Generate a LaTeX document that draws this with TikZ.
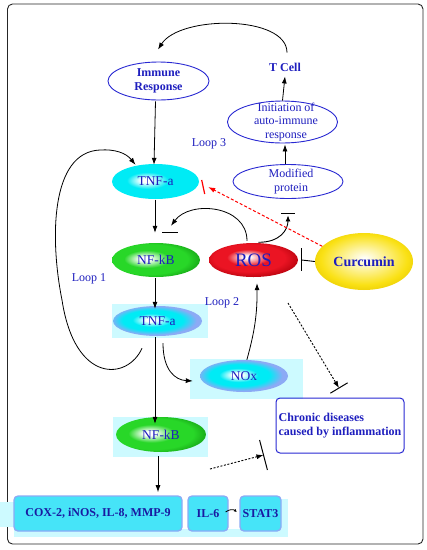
\documentclass[tikz,border=0pt]{standalone}
\usepackage{fontspec}
\setmainfont{Liberation Serif}
\usetikzlibrary{arrows.meta,calc,shapes.geometric}
\definecolor{txtblue}{RGB}{30,30,190}
\definecolor{bordblue}{RGB}{40,40,210}
\definecolor{cyanA}{RGB}{0,235,245}
\definecolor{peri}{RGB}{140,170,245}
\definecolor{greenA}{RGB}{40,215,40}
\definecolor{greenB}{RGB}{20,160,20}
\definecolor{redA}{RGB}{235,20,35}
\definecolor{redB}{RGB}{175,0,10}
\definecolor{yelA}{RGB}{250,225,20}
\definecolor{yelB}{RGB}{230,200,0}
\definecolor{paleCyan}{RGB}{205,250,255}
\definecolor{boxCyan}{RGB}{70,228,248}
\pgfdeclareradialshading{cyanball}{\pgfpoint{-6bp}{2bp}}{color(0bp)=(white); color(3bp)=(white); color(12bp)=(cyanA); color(50bp)=(cyanA)}
\pgfdeclareradialshading{cyanrim}{\pgfpoint{-4bp}{2bp}}{color(0bp)=(white); color(3bp)=(white); color(11bp)=(cyanA); color(17bp)=(cyanA); color(24bp)=(peri); color(50bp)=(peri)}
\pgfdeclareradialshading{greenball}{\pgfpoint{-7bp}{2bp}}{color(0bp)=(white); color(3bp)=(white); color(13bp)=(greenA); color(22bp)=(greenA); color(30bp)=(greenB); color(50bp)=(greenB)}
\pgfdeclareradialshading{redball}{\pgfpoint{-4bp}{5bp}}{color(0bp)=(white); color(2bp)=(white); color(12bp)=(redA); color(20bp)=(redA); color(30bp)=(redB); color(50bp)=(redB)}
\pgfdeclareradialshading{yelball}{\pgfpoint{0bp}{3bp}}{color(0bp)=(white); color(8bp)=(yelA!35!white); color(22bp)=(yelA); color(30bp)=(yelB); color(50bp)=(yelB)}
\tikzset{
  lbl/.style={text=txtblue, inner sep=1pt, font=\fontsize{12}{13.3}\selectfont, align=center},
  bl/.style={lbl, font=\bfseries\fontsize{12}{14.5}\selectfont},
  oval/.style={ellipse, draw=bordblue, line width=0.9pt, inner sep=0pt},
  ball/.style={ellipse, inner sep=0pt, text=txtblue, font=\fontsize{13.5}{15}\selectfont},
  gbox/.style={rectangle, rounded corners=4pt, fill=boxCyan, draw=peri, line width=1.3pt, inner sep=0pt,
     minimum height=35pt, text=txtblue!85!black, font=\bfseries\fontsize{12}{14}\selectfont},
  arr/.style={-{Latex[length=7pt,width=5pt]}, line width=0.8pt},
  teebar/.style={line width=1pt},
  dots/.style={line width=0.9pt, dash pattern=on 2pt off 1.6pt},
  reddash/.style={draw=red, line width=1pt, dash pattern=on 3pt off 2pt},
}
\begin{document}
\begin{tikzpicture}[x=1pt,y=1pt]
\useasboundingbox (0,0) rectangle (427,-550);
\draw[line width=0.9pt, rounded corners=5pt, draw=black!85] (7.5,-4) rectangle (423,-544);
% pale background patches
\fill[paleCyan] (112,-304) rectangle (208,-338);
\fill[paleCyan] (190,-359) rectangle (303,-399);
\fill[paleCyan] (113,-417) rectangle (208,-457);
\fill[paleCyan] (0,-502) rectangle (14,-527);
\fill[paleCyan] (14,-529) rectangle (288,-537);
\fill[paleCyan] (280,-499) rectangle (288,-530);
% nodes
\node[oval, minimum width=101pt, minimum height=38pt] (immune) at (158.5,-81) {};
\node[bl] (immune-t) at (immune) {Immune\\Response};
\node[bl] (tcell) at (285,-67) {T Cell};
\node[oval, minimum width=110pt, minimum height=42pt] (init) at (282.5,-122) {};
\node[lbl] (init-t) at (286,-122) {Initiation of\\auto-immune\\response};
\node[oval, minimum width=110pt, minimum height=34pt] (mod) at (288,-181.5) {};
\node[lbl] (mod-t) at (291,-181.5) {Modified\\protein};
\node[ball, shading=cyanball, minimum width=87pt, minimum height=35pt] (tnf1) at (155.5,-181.5) {TNF-a};
\node[ball, shading=greenball, minimum width=88pt, minimum height=34pt] (nfkb1) at (156,-260) {NF-kB};
\node[ball, shading=redball, minimum width=89pt, minimum height=34pt, font=\fontsize{19}{21}\selectfont] (ros) at (253.5,-260) {ROS};
\node[ball, shading=yelball, minimum width=98pt, minimum height=57pt, font=\bfseries\fontsize{14}{16}\selectfont] (cur) at (364,-261.5) {Curcumin};
\node[ball, shading=cyanrim, minimum width=89pt, minimum height=30pt] (tnf2) at (157.5,-321) {TNF-a};
\node[ball, shading=cyanrim, minimum width=88pt, minimum height=32pt] (nox) at (244,-376) {NOx};
\node[ball, shading=greenball, minimum width=90pt, minimum height=35pt] (nfkb2) at (161,-434.5) {NF-kB};
\node[rectangle, rounded corners=4pt, draw=bordblue, line width=1pt, minimum width=128pt, minimum height=55pt,
   inner sep=2pt, text=txtblue, align=left, font=\bfseries\fontsize{12}{13.3}\selectfont] (chronic) at (340,-425.5)
   {Chronic diseases\\caused by inflammation};
\node[gbox, minimum width=168pt] (cox) at (98,-513.5) {COX-2, iNOS, IL-8, MMP-9};
\node[gbox, minimum width=40pt] (il6) at (208,-513.5) {IL-6};
\node[gbox, minimum width=41pt] (stat3) at (260.5,-513.5) {STAT3};
\node[lbl] (loop1) at (89,-279) {Loop 1};
\node[lbl] (loop2) at (222,-303) {Loop 2};
\node[lbl] (loop3) at (209,-144) {Loop 3};
% connectors
\draw[arr] ($(tcell.north)+(2,9)$) .. controls (287,-15) and (180,-15) .. ($(immune.north)+(-0.5,12)$);
\draw[arr] (init.north) -- ($(tcell.south)+(0,-4)$);
\draw[arr] ($(mod.north)+(-3,0)$) -- ($(init.south)+(2.5,-1)$);
\draw[arr] (tnf1.north |- immune.south) ++(0,-1) -- ($(tnf1.north)+(-1.5,-1)$);
\draw[arr] ($(tnf1.south)+(-0.5,-1)$) -- ($(nfkb1.north)+(-1,10)$);
\draw[teebar] ($(nfkb1.north)+(6,10)$) -- ($(nfkb1.north)+(22,10)$);
\draw[arr] ($(ros.north)+(-6.5,2)$) .. controls (247,-205) and (190,-200) .. ($(nfkb1.north)+(15,17)$);
\coordinate (rosA) at ($(ros.north)+(5,0.5)$);
\coordinate (modA) at ($(mod.south)+(0,-16.5)$);
\draw[line width=0.9pt, -{Latex[length=6pt,width=5pt]}] (rosA) .. controls +(22,0) and +(0,-14) .. (modA);
\draw[teebar] ($(mod.south)+(-7,-14.5)$) -- ($(mod.south)+(7,-14.5)$);
\coordinate (curtee) at ($(ros.east)+(3.5,0)$);
\draw[line width=0.9pt] (cur.west) -- (curtee);
\draw[teebar] ($(curtee)+(0,12)$) -- ($(curtee)+(0,-11)$);
\draw[reddash, -{Latex[length=7pt,width=5pt]}] (cur.160) -- ($(tnf1.east)+(9,-5.5)$);
\draw[red, line width=1.2pt] ($(tnf1.east)+(2.5,1.5)$) -- ($(tnf1.east)+(5.5,-12.5)$);
% loop 1
\draw[arr] ($(tnf2.south)+(-15.5,-12)$) .. controls (128,-380) and (75,-385) .. (62,-300)
   .. controls (50,-240) and (50,-152) .. (100,-150)
   .. controls (115,-149) and (126,-153) .. ($(tnf1.north)+(-20,-1)$);
\draw[arr] ($(nfkb1.south)+(-1,-1)$) -- ($(tnf2.north)+(-2.5,-3)$);
\draw[arr] ($(tnf2.south)+(-2.5,-1)$) -- ($(nfkb2.north)+(-6,-7)$);
\draw[arr] ($(tnf2.south)+(5.5,-7)$) .. controls (163,-370) and (175,-380) .. ($(nox.west)+(-7,-5)$);
\draw[arr] (nox.80) to[bend right=8] ($(ros.south)+(3.5,-6)$);
% dotted inhibitions
\coordinate (d1s) at (288,-303);
\coordinate (d1e) at ($(chronic.north)+(-1,9.5)$);
\draw[dots, -{Latex[length=7pt,width=5pt]}] (d1s) -- (d1e);
\draw[teebar] ($(d1e)!10pt!90:(d1s)$) -- ($(d1e)!10pt!-90:(d1s)$);
\coordinate (d2s) at (210,-469);
\coordinate (d2e) at ($(chronic.west)+(-12,-29.5)$);
\draw[dots, -{Latex[length=7pt,width=5pt]}] (d2s) -- (d2e);
\draw[teebar] ($(d2e)!15.5pt!90:(d2s)$) -- ($(d2e)!15.5pt!-90:(d2s)$);
\draw[arr] ($(nfkb2.south)+(-3,-4)$) -- ($(nfkb2.south)+(-3,-40)$);
\draw[-{Latex[length=3pt,width=3pt]}, line width=0.8pt] ($(il6.east)+(-3,1.5)$) to[bend left=40] ($(stat3.west)+(-2.5,1.5)$);
\end{tikzpicture}
\end{document}
